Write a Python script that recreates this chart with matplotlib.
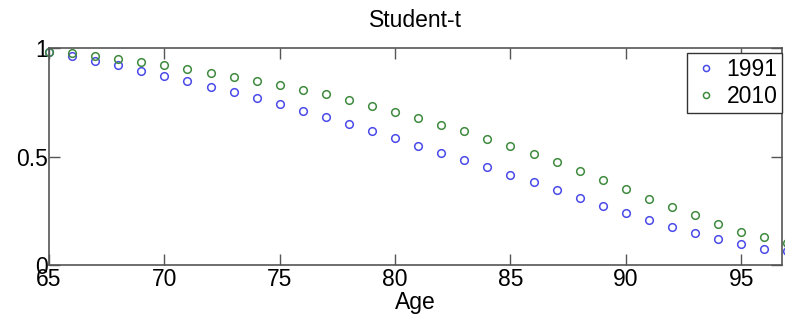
import numpy as np
import matplotlib
matplotlib.use('Agg')
import matplotlib.pyplot as plt

plt.rcParams['font.family'] = ['Liberation Sans', 'DejaVu Sans']

ages = list(range(65, 98))
s1991 = [0.983, 0.963, 0.940, 0.920, 0.896, 0.871, 0.849, 0.822, 0.797, 0.770,
         0.742, 0.710, 0.681, 0.648, 0.616, 0.585, 0.550, 0.518, 0.482, 0.452,
         0.416, 0.381, 0.346, 0.310, 0.273, 0.240, 0.207, 0.175, 0.149, 0.121,
         0.097, 0.075, 0.063]
s2010 = [0.983, 0.979, 0.965, 0.949, 0.935, 0.922, 0.903, 0.886, 0.868, 0.849,
         0.831, 0.806, 0.787, 0.762, 0.733, 0.705, 0.676, 0.647, 0.618, 0.582,
         0.547, 0.512, 0.473, 0.433, 0.390, 0.349, 0.306, 0.267, 0.229, 0.190,
         0.153, 0.128, 0.100]

fig = plt.figure(figsize=(7.85, 3.2), dpi=100)
ax = fig.add_axes([49/785, 55/320, 733/785, 217/320])

ax.plot(ages, s1991, 'o', mfc='none', mec='#4a4ae8', mew=1.1, ms=5.5,
        clip_on=False, label='1991')
ax.plot(ages, s2010, 'o', mfc='none', mec='#3f8a3f', mew=1.1, ms=5.5,
        clip_on=False, label='2010')

ax.set_xlim(65, 96.77)
ax.set_ylim(0, 1)
ax.set_xticks([65, 70, 75, 80, 85, 90, 95])
ax.set_yticks([0, 0.5, 1])
ax.set_yticklabels(['0', '0.5', '1'])
ax.tick_params(direction='in', length=8, width=1, color='#555555',
               top=True, right=True, labelsize=16.5, pad=2)
ax.tick_params(axis='y', pad=1)
for s in ax.spines.values():
    s.set_color('#555555')
    s.set_linewidth(1.2)

ax.set_title('Student-t', fontsize=16.5, pad=15)
ax.set_xlabel('Age', fontsize=16.5, labelpad=0)

leg = ax.legend(loc='upper right', bbox_to_anchor=(1.0, 1 - 5/217), fontsize=16.5,
                fancybox=False, edgecolor='#333333', framealpha=1,
                handletextpad=0.3, borderpad=0.2, labelspacing=0.2,
                handlelength=1.2, markerscale=0.8, borderaxespad=0)
leg.get_frame().set_linewidth(1.0)

fig.savefig('out.png', dpi=100)
